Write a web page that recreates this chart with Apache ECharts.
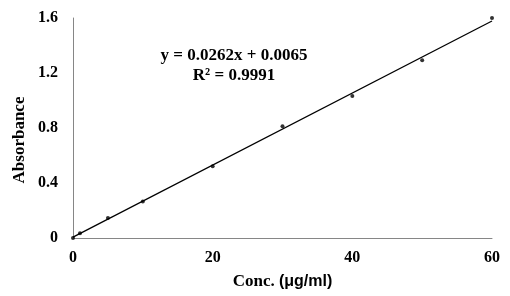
<!DOCTYPE html>
<html><head><meta charset="utf-8">
<script src="https://cdn.jsdelivr.net/npm/echarts@6/dist/echarts.min.js"></script>
<style>html,body{margin:0;padding:0;background:#fff}#c{width:510px;height:296px}</style>
</head><body><div id="c"></div>
<script>
const conc = [0, 1, 5, 10, 20, 30, 40, 50, 60];
const absorbance = [0, 0.035, 0.145, 0.265, 0.522, 0.812, 1.032, 1.292, 1.6];
const slope = 0.0262, intercept = 0.0065;
const trendX = [0, 60];
const xTicks = [0, 20, 40, 60];
const yTicks = [0, 0.4, 0.8, 1.2, 1.6];
const serif = '"Liberation Serif","Times New Roman",serif';
const chart = echarts.init(document.getElementById('c'));
chart.setOption({
  animation: false,
  grid: {left: 73, right: 18, top: 18, bottom: 58, containLabel: false, outerBoundsMode: 'none'},
  xAxis: {
    type: 'value', min: 0, max: 60, interval: 20,
    name: 'Conc. {s|(μg/ml)}', nameLocation: 'middle', nameGap: 35,
    nameTextStyle: {fontFamily: serif, fontWeight: 'bold', fontSize: 17, color: '#000',
      rich: {s: {fontFamily: '"Liberation Sans",Arial,sans-serif', fontWeight: 'bold', fontSize: 16, color: '#000'}}},
    axisLine: {lineStyle: {color: '#868686', width: 1}},
    axisTick: {show: false}, splitLine: {show: false},
    axisLabel: {fontFamily: serif, fontWeight: 'bold', fontSize: 16, color: '#000', margin: 12}
  },
  yAxis: {
    type: 'value', min: 0, max: 1.6, interval: 0.4,
    axisLine: {show: true, lineStyle: {color: '#868686', width: 1}},
    axisTick: {show: false}, splitLine: {show: false},
    axisLabel: {fontFamily: serif, fontWeight: 'bold', fontSize: 16, color: '#000', margin: 15,
      formatter: v => yTicks.includes(+v.toFixed(1)) ? (v === 0 ? '0' : v.toFixed(1)) : ''}
  },
  graphic: [
    {type: 'text', x: 20, y: 140, rotation: Math.PI / 2,
     style: {text: 'Absorbance', font: 'bold 17px ' + serif, fill: '#000', align: 'center', verticalAlign: 'middle'}},
    {type: 'text', x: 234, y: 56, style: {text: 'y = 0.0262x + 0.0065', font: 'bold 17px ' + serif, fill: '#000', align: 'center', verticalAlign: 'middle'}},
    {type: 'text', x: 234, y: 76, style: {text: 'R² = 0.9991', font: 'bold 17px ' + serif, fill: '#000', align: 'center', verticalAlign: 'middle'}}
  ],
  series: [
    {type: 'line', data: trendX.map(x => [x, slope * x + intercept]), symbol: 'none',
     lineStyle: {color: '#000', width: 1.3}, z: 2},
    {type: 'scatter', data: conc.map((c, i) => [c, absorbance[i]]), symbol: 'circle', symbolSize: 4,
     itemStyle: {color: '#000'}, z: 3}
  ]
});
</script></body></html>
